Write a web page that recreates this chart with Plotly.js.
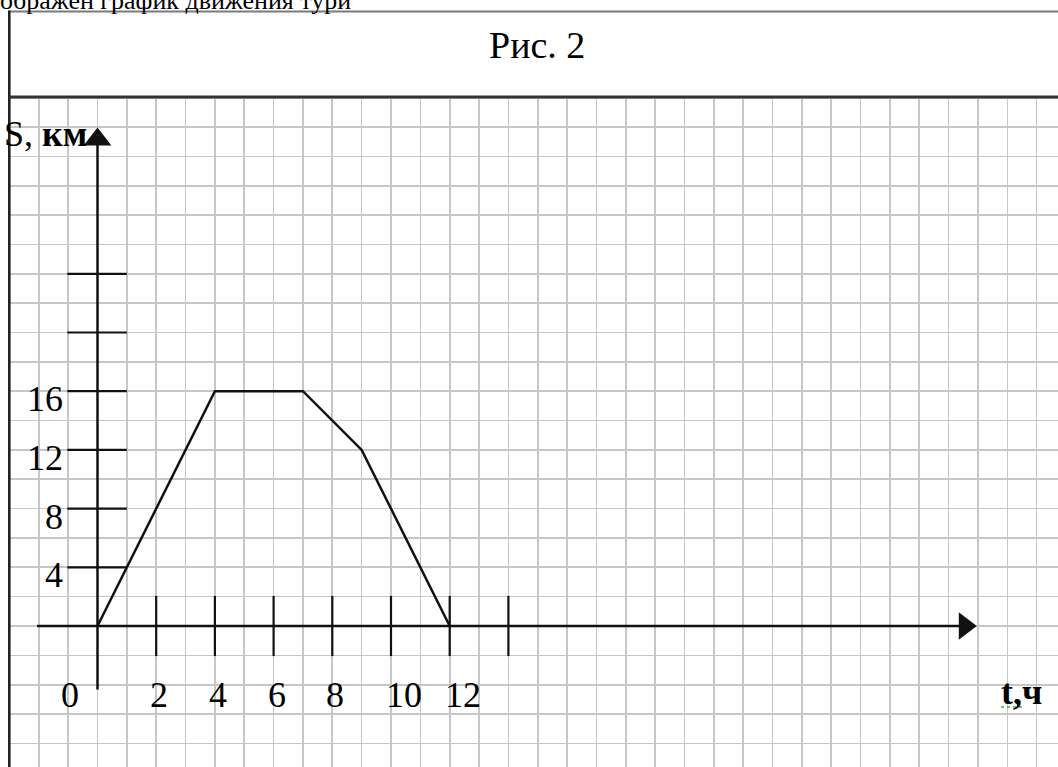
<!DOCTYPE html>
<html>
<head>
<meta charset="utf-8">
<script src="https://cdn.plot.ly/plotly-3.0.1.min.js"></script>
<style>
  html, body { margin: 0; padding: 0; background: #fff; }
  #MainGraphView { width: 1058px; height: 767px; }
</style>
</head>
<body>
<div id="MainGraphView"></div>
<script>
// tourist movement: time (h) vs distance (km)
var timeH = [0, 4, 7, 9, 12];
var distKm = [0, 16, 16, 12, 0];

// axis tick marks and labels
var xTickVals = [2, 4, 6, 8, 10, 12, 14];
var xLabelVals = [2, 4, 6, 8, 10, 12];
var yTickVals = [4, 8, 12, 16, 20, 24];
var yLabelVals = [4, 8, 12, 16];

var W = 1058, H = 767;
var cell = 29.35;              // px per hour, px per 2 km
var x0px = 97.5, y0px = 626;   // where the origin sits on the page
var xRange = [-x0px / cell, (W - x0px) / cell];
var yRange = [-(H - y0px) / (cell / 2), y0px / (cell / 2)];

var serif = 'Liberation Serif, Times New Roman, serif';
var ink = '#111';

// build tick segments with null gaps
var xtx = [], xty = [];
for (var i = 0; i < xTickVals.length; i++) {
    xtx.push(xTickVals[i], xTickVals[i], null);
    xty.push(2.05, -2.05, null);
}
var ytx = [], yty = [];
for (var j = 0; j < yTickVals.length; j++) {
    ytx.push(-1.03, 1.0, null);
    yty.push(yTickVals[j], yTickVals[j], null);
}

var axisLines = {
    x: [-2.06, 29.4, null, 0, 0],
    y: [0, 0, null, -4.33, 33.0],
    mode: 'lines',
    line: {color: ink, width: 2.5},
    hoverinfo: 'skip'
};
var xTicks = {x: xtx, y: xty, mode: 'lines', line: {color: ink, width: 2.2}, hoverinfo: 'skip'};
var yTicks = {x: ytx, y: yty, mode: 'lines', line: {color: ink, width: 2.2}, hoverinfo: 'skip'};
var arrows = {
    x: [29.55, 0],
    y: [0, 33.15],
    mode: 'markers',
    marker: {symbol: ['triangle-right', 'triangle-up'], size: 24, color: ink, line: {width: 0}},
    hoverinfo: 'skip'
};
var path = {
    x: timeH,
    y: distKm,
    mode: 'lines',
    line: {color: ink, width: 2.5},
    name: 'S(t)'
};

var annotations = [];
function label(text, x, y, opts) {
    var a = {
        text: text, x: x, y: y, xref: 'x', yref: 'y', showarrow: false,
        font: {family: serif, size: 36, color: '#000'},
        xanchor: 'center', yanchor: 'middle'
    };
    for (var k in opts) a[k] = opts[k];
    annotations.push(a);
}
label('0', 0, 0, {xshift: -28, yshift: -69});
for (var m = 0; m < xLabelVals.length; m++) {
    var t = String(xLabelVals[m]);
    label(t, xLabelVals[m], 0, {xshift: 3 + (t.length - 1) * 10, yshift: -69});
}
for (var n = 0; n < yLabelVals.length; n++) {
    label(String(yLabelVals[n]), 0, yLabelVals[n], {xanchor: 'right', xshift: -33, yshift: -8});
}
label('S, <b>км</b>', 0, 33.15, {xanchor: 'right', xshift: -9, yshift: 6});
label('<b>t,ч</b>', 30.72, -4.5, {xanchor: 'left', yshift: 0});

// text on the page above the figure frame
annotations.push({
    text: 'ображен график движения тури', xref: 'paper', yref: 'paper',
    x: -2 / W, y: 1 + 0 / H, xanchor: 'left', yanchor: 'middle', showarrow: false,
    font: {family: serif, size: 26, color: '#000'}
});
annotations.push({
    text: 'Рис. 2', xref: 'paper', yref: 'paper',
    x: 537 / W, y: 1 - 45 / H, xanchor: 'center', yanchor: 'middle', showarrow: false,
    font: {family: serif, size: 38, color: '#000'}
});

function px(v) { return v / W; }
function py(v) { return 1 - v / H; }
var shapes = [
    // blank paper outside the grid
    {type: 'rect', xref: 'paper', yref: 'paper', x0: 0, x1: px(9), y0: 0, y1: 1,
     fillcolor: '#fff', line: {width: 0}, layer: 'above'},
    {type: 'rect', xref: 'paper', yref: 'paper', x0: 0, x1: 1, y0: py(97), y1: 1,
     fillcolor: '#fff', line: {width: 0}, layer: 'above'},
    // frame
    {type: 'line', xref: 'paper', yref: 'paper', x0: px(9.3), x1: 1, y0: py(11.5), y1: py(11.5),
     line: {color: '#7a7a7a', width: 2}, layer: 'above'},
    {type: 'line', xref: 'paper', yref: 'paper', x0: px(9.3), x1: px(9.3), y0: py(10.5), y1: 0,
     line: {color: '#222', width: 2.6}, layer: 'above'},
    {type: 'line', xref: 'paper', yref: 'paper', x0: px(9.3), x1: 1, y0: py(97), y1: py(97),
     line: {color: '#333', width: 3}, layer: 'above'},
    // spell-check squiggle under "t,"
    {type: 'line', xref: 'paper', yref: 'paper', x0: px(1001), x1: px(1023), y0: py(707), y1: py(707),
     line: {color: '#3cb43c', width: 1.5, dash: 'dot'}, layer: 'above'}
];

var layout = {
    width: W, height: H,
    margin: {l: 0, r: 0, t: 0, b: 0},
    paper_bgcolor: '#fff',
    plot_bgcolor: '#fff',
    showlegend: false,
    xaxis: {range: xRange, tick0: 0, dtick: 1, showgrid: true, gridcolor: '#c6c6c6', gridwidth: 1.6,
            zeroline: false, showticklabels: false, ticks: '', showline: false, fixedrange: true},
    yaxis: {range: yRange, tick0: 0, dtick: 2, showgrid: true, gridcolor: '#c6c6c6', gridwidth: 1.6,
            zeroline: false, showticklabels: false, ticks: '', showline: false, fixedrange: true},
    shapes: shapes,
    annotations: annotations
};

Plotly.newPlot('MainGraphView', [axisLines, xTicks, yTicks, path, arrows], layout,
    {displayModeBar: false, staticPlot: true});
</script>
</body>
</html>
